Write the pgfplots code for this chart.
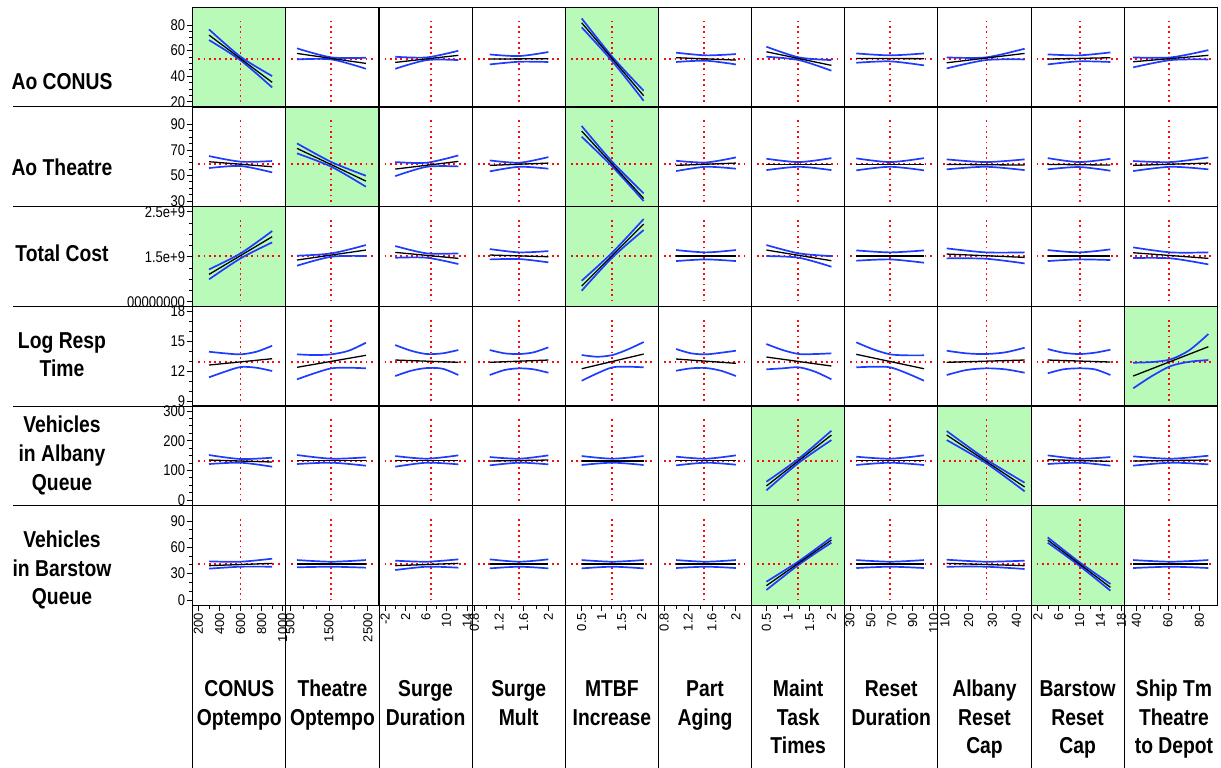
\documentclass[border=0pt]{standalone}
\usepackage{pgfplots}
\pgfplotsset{compat=1.18}
\usepackage{fontspec}
\setmainfont{Liberation Sans}[FakeStretch=0.84]
\newfontfamily\rotfont{Liberation Sans}
\definecolor{jmpgreen}{RGB}{185,250,185}
\definecolor{jmpblue}{RGB}{30,60,255}
\definecolor{jmpred}{RGB}{255,10,10}
\tikzset{
  reddot/.style={jmpred, line width=1.8pt, dash pattern=on 1.8pt off 3.5pt},
  bluec/.style={jmpblue, line width=1.7pt, no markers},
  blackl/.style={black, line width=1.3pt, no markers}
}
\newcommand\setval[2]{\expandafter\def\csname #1\endcsname{#2}}
% current factor settings (red vertical) and predicted responses (red horizontal)
\setval{redx1}{600}\setval{redx2}{1550}\setval{redx3}{7}\setval{redx4}{1.52}
\setval{redx5}{1.25}\setval{redx6}{1.47}\setval{redx7}{1.23}\setval{redx8}{68}
\setval{redx9}{27.5}\setval{redx10}{10}\setval{redx11}{60.5}
\setval{redy1}{53.3}\setval{redy2}{59}\setval{redy3}{1.51}\setval{redy4}{12.93}
\setval{redy5}{131}\setval{redy6}{40.7}
\pgfplotsset{
  panel/.style={scale only axis, width=93.15pt, height=99.68pt, anchor=north west,
    xtick=\empty, ytick=\empty, tick align=outside, tick pos=left,
    axis line style={line width=1.1pt, black},
    major tick length=6pt, minor tick length=3.5pt,
    tick style={black, line width=0.8pt},
    xticklabel style={rotate=90, anchor=east, font=\rotfont\fontsize{13}{13}\selectfont, inner sep=1.5pt},
    yticklabel style={font=\fontsize{15.5}{15.5}\selectfont, inner sep=1.5pt},
    /pgf/number format/assume math mode=true},
  sig/.style={axis background/.style={fill=jmpgreen}},
  xc1/.style={xmin=145,xmax=1030},
  xc2/.style={xmin=393,xmax=2787},
  xc3/.style={xmin=-3.17,xmax=15.0},
  xc4/.style={xmin=0.765,xmax=2.274},
  xc5/.style={xmin=0.09,xmax=2.42},
  xc6/.style={xmin=0.704,xmax=2.263},
  xc7/.style={xmin=0.158,xmax=2.308},
  xc8/.style={xmin=24.98,xmax=114.1},
  xc9/.style={xmin=7.1,xmax=46.2},
  xc10/.style={xmin=0.708,xmax=18.54},
  xc11/.style={xmin=32.3,xmax=91.3},
  yr1/.style={ymin=15.9,ymax=93.9},
  yr2/.style={ymin=25.6,ymax=103.6},
  yr3/.style={ymin=0.398,ymax=2.613},
  yr4/.style={ymin=8.5,ymax=18.47},
  yr5/.style={ymin=-19.2,ymax=316.9},
  yr6/.style={ymin=-6.15,ymax=107.4},
  yr1t/.style={ytick={20,40,60,80},yticklabels={20,40,60,80},minor y tick num=3},
  yr2t/.style={ytick={30,50,70,90},yticklabels={30,50,70,90},minor y tick num=3},
  yr3t/.style={ytick={0.5,1.5,2.5},yticklabels={00000000,1.5e+9,2.5e+9},minor y tick num=3},
  yr4t/.style={ytick={9,12,15,18},yticklabels={9,12,15,18},minor y tick num=2},
  yr5t/.style={ytick={0,100,200,300},yticklabels={0,100,200,300},minor y tick num=3},
  yr6t/.style={ytick={0,30,60,90},yticklabels={0,30,60,90},minor y tick num=2},
  xc1t/.style={xtick={200,400,600,800,1000},xticklabels={200,400,600,800,1000},minor x tick num=1},
  xc2t/.style={xtick={500,1500,2500},xticklabels={500,1500,2500},minor x tick num=2},
  xc3t/.style={xtick={-2,2,6,10,14},xticklabels={-2,2,6,10,14},minor x tick num=1},
  xc4t/.style={xtick={0.8,1.2,1.6,2},xticklabels={0.8,1.2,1.6,2},minor x tick num=1},
  xc5t/.style={xtick={0.5,1,1.5,2},xticklabels={0.5,1,1.5,2},minor x tick num=1},
  xc6t/.style={xtick={0.8,1.2,1.6,2},xticklabels={0.8,1.2,1.6,2},minor x tick num=1},
  xc7t/.style={xtick={0.5,1,1.5,2},xticklabels={0.5,1,1.5,2},minor x tick num=1},
  xc8t/.style={xtick={30,50,70,90,110},xticklabels={30,50,70,90,110},minor x tick num=1},
  xc9t/.style={xtick={10,20,30,40},xticklabels={10,20,30,40},minor x tick num=1},
  xc10t/.style={xtick={2,6,10,14,18},xticklabels={2,6,10,14,18},minor x tick num=1},
  xc11t/.style={xtick={40,60,80},xticklabels={40,60,80},minor x tick num=3},
}
% #1 column, #2 row, #3 options, #4 prediction line, #5 upper band, #6 lower band
\newcommand{\panel}[6]{%
  \pgfmathsetmacro{\px}{192.7+93.15*(#1-1)}%
  \pgfmathsetmacro{\py}{7.3+99.68*(#2-1)}%
  \edef\rx{\csname redx#1\endcsname}%
  \edef\ry{\csname redy#2\endcsname}%
  \begin{axis}[panel, at={(\px pt,-\py pt)}, xc#1, yr#2, #3]
    \draw[reddot] ({axis cs:\rx,\ry}|-{rel axis cs:0,0.05}) -- ({axis cs:\rx,\ry}|-{rel axis cs:0,0.89});
    \draw[reddot] ({rel axis cs:0.06,0}|-{axis cs:\rx,\ry}) -- ({rel axis cs:0.94,0}|-{axis cs:\rx,\ry});
    \addplot[bluec, smooth] coordinates {#5};
    \addplot[bluec, smooth] coordinates {#6};
    \addplot[blackl] coordinates {#4};
  \end{axis}}
\newcommand{\lab}{\fontsize{23}{23}\selectfont\bfseries}
\begin{document}
\begin{tikzpicture}
\useasboundingbox (0,0) rectangle (1221pt,-768pt);
% ---------------- Row 1: Ao CONUS
\panel{1}{1}{sig,yr1t}{(300,72.2)(900,35.2)}{(300,76.6)(600,55.2)(900,40.1)}{(300,68.3)(600,52.4)(900,31.2)}
\panel{2}{1}{}{(680,57.8)(2450,50.0)}{(680,61.75)(1565,54.7)(2450,54.45)}{(680,53.1)(1565,53.1)(2450,45.8)}
\panel{3}{1}{}{(0,50.8)(12.3,56.3)}{(0,55.2)(6.15,54.7)(12.3,59.9)}{(0,45.8)(6.15,52.6)(12.3,52.6)}
\panel{4}{1}{}{(1.05,53.4)(2,53.7)}{(1.05,57.0)(1.53,55.75)(2,58.9)}{(1.05,49.2)(1.53,51.3)(2,51.1)}
\panel{5}{1}{sig}{(0.5,81.8)(2.05,24.7)}{(0.5,85.2)(1.27,55.0)(2.05,28.6)}{(0.5,78.2)(1.27,51.5)(2.05,20.8)}
\panel{6}{1}{}{(1,54.45)(2,52.6)}{(1,58.4)(1.5,56.3)(2,57.3)}{(1,51.1)(1.5,52.1)(2,49.2)}
\panel{7}{1}{}{(0.5,59.1)(2,48.45)}{(0.5,63.05)(1.25,54.7)(2,52.6)}{(0.5,55.2)(1.25,52.6)(2,44.3)}
\panel{8}{1}{}{(36,53.9)(100.8,53.7)}{(36,57.8)(68.4,56.3)(100.8,57.8)}{(36,50.5)(68.4,51.6)(100.8,48.45)}
\panel{9}{1}{}{(10.8,50.5)(43.5,57.8)}{(10.8,54.7)(27.2,54.7)(43.5,61.5)}{(10.8,46.1)(27.2,52.6)(43.5,53.1)}
\panel{10}{1}{}{(3.9,53.4)(15.9,54.45)}{(3.9,57.05)(9.9,56.3)(15.9,58.6)}{(3.9,49.2)(9.9,51.6)(15.9,51.1)}
\panel{11}{1}{}{(38,51.3)(85.6,56.3)}{(38,54.7)(61.8,54.7)(85.6,60.4)}{(38,46.9)(61.8,52.6)(85.6,53.1)}
% ---------------- Row 2: Ao Theatre
\panel{1}{2}{yr2t}{(300,60.76)(900,56.84)}{(300,65.2)(600,60.8)(900,61.3)}{(300,55.8)(600,57.4)(900,52.4)}
\panel{2}{2}{sig}{(680,71.2)(2450,45.6)}{(680,75.1)(1565,60.5)(2450,49.8)}{(680,67.3)(1565,56.8)(2450,41.2)}
\panel{3}{2}{}{(0,55.0)(12.3,61.0)}{(0,60.5)(6.15,60.0)(12.3,65.7)}{(0,49.5)(6.15,56.8)(12.3,57.1)}
\panel{4}{2}{}{(1.05,57.9)(2,59.7)}{(1.05,61.8)(1.53,60.0)(2,64.4)}{(1.05,53.2)(1.53,56.8)(2,55.3)}
\panel{5}{2}{sig}{(0.5,84.75)(2.05,32.07)}{(0.5,88.7)(1.27,60.5)(2.05,36.0)}{(0.5,80.3)(1.27,56.8)(2.05,30.0)}
\panel{6}{2}{}{(1,57.9)(2,59.7)}{(1,61.5)(1.5,60.2)(2,64.15)}{(1,53.45)(1.5,56.8)(2,55.3)}
\panel{7}{2}{}{(0.5,58.67)(2,58.67)}{(0.5,63.1)(1.25,60.5)(2,63.6)}{(0.5,54.2)(1.25,56.8)(2,54.2)}
\panel{8}{2}{}{(36,58.67)(100.8,58.67)}{(36,63.4)(68.4,60.5)(100.8,63.6)}{(36,54.0)(68.4,56.8)(100.8,54.0)}
\panel{9}{2}{}{(10.8,58.67)(43.5,58.15)}{(10.8,62.6)(27.2,60.5)(43.5,62.6)}{(10.8,54.8)(27.2,56.8)(43.5,54.2)}
\panel{10}{2}{}{(3.9,58.67)(15.9,58.15)}{(3.9,63.6)(9.9,60.5)(15.9,63.1)}{(3.9,54.8)(9.9,56.6)(15.9,53.7)}
\panel{11}{2}{}{(38,57.9)(85.6,59.7)}{(38,61.3)(61.8,60.5)(85.6,64.15)}{(38,53.45)(61.8,56.8)(85.6,54.8)}
% ---------------- Row 3: Total Cost (in 1e9)
\panel{1}{3}{sig,yr3t}{(300,1.108)(900,1.945)}{(300,1.219)(600,1.575)(900,2.071)}{(300,0.997)(600,1.464)(900,1.819)}
\panel{2}{3}{}{(680,1.427)(2450,1.649)}{(680,1.523)(1565,1.575)(2450,1.760)}{(680,1.301)(1565,1.501)(2450,1.515)}
\panel{3}{3}{}{(0,1.597)(12.3,1.464)}{(0,1.738)(6.15,1.575)(12.3,1.575)}{(0,1.478)(6.15,1.478)(12.3,1.338)}
\panel{4}{3}{}{(1.05,1.538)(2,1.501)}{(1.05,1.671)(1.53,1.597)(2,1.626)}{(1.05,1.441)(1.53,1.449)(2,1.375)}
\panel{5}{3}{sig}{(0.5,0.849)(2.05,2.227)}{(0.5,0.967)(1.27,1.597)(2.05,2.338)}{(0.5,0.745)(1.27,1.486)(2.05,2.093)}
\panel{6}{3}{}{(1,1.515)(2,1.515)}{(1,1.649)(1.5,1.597)(2,1.649)}{(1,1.404)(1.5,1.441)(2,1.404)}
\panel{7}{3}{}{(0.5,1.649)(2,1.412)}{(0.5,1.760)(1.25,1.575)(2,1.515)}{(0.5,1.515)(1.25,1.478)(2,1.278)}
\panel{8}{3}{}{(36,1.515)(100.8,1.515)}{(36,1.641)(68.4,1.597)(100.8,1.641)}{(36,1.412)(68.4,1.441)(100.8,1.367)}
\panel{9}{3}{}{(10.8,1.560)(43.5,1.486)}{(10.8,1.686)(27.2,1.597)(43.5,1.597)}{(10.8,1.464)(27.2,1.456)(43.5,1.352)}
\panel{10}{3}{}{(3.9,1.515)(15.9,1.515)}{(3.9,1.649)(9.9,1.597)(15.9,1.664)}{(3.9,1.404)(9.9,1.441)(15.9,1.427)}
\panel{11}{3}{}{(38,1.589)(85.6,1.464)}{(38,1.708)(61.8,1.597)(85.6,1.597)}{(38,1.471)(61.8,1.464)(85.6,1.330)}
% ---------------- Row 4: Log Resp Time
\panel{1}{4}{yr4t}{(300,12.60)(900,13.23)}{(300,13.93)(450,13.77)(600,13.67)(750,13.93)(900,14.53)}{(300,11.37)(450,11.93)(600,12.40)(750,12.33)(900,12.00)}
\panel{2}{4}{}{(680,12.37)(2450,13.57)}{(680,13.67)(1122,13.60)(1565,13.67)(2008,14.03)(2450,14.83)}{(680,11.17)(1122,11.77)(1565,12.27)(2008,12.33)(2450,12.27)}
\panel{3}{4}{}{(0,13.10)(12.3,12.87)}{(0,14.60)(3.08,14.03)(6.15,13.70)(9.23,13.77)(12.3,14.10)}{(0,11.50)(3.08,12.03)(6.15,12.30)(9.23,12.23)(12.3,11.60)}
\panel{4}{4}{}{(1.05,12.87)(2,13.10)}{(1.05,14.10)(1.29,13.77)(1.53,13.70)(1.76,13.87)(2,14.37)}{(1.05,11.60)(1.29,12.10)(1.53,12.27)(1.76,12.17)(2,11.83)}
\panel{5}{4}{}{(0.5,12.23)(2.05,13.70)}{(0.5,13.60)(0.89,13.43)(1.27,13.60)(1.66,14.17)(2.05,14.90)}{(0.5,11.03)(0.89,11.77)(1.27,12.37)(1.66,12.43)(2.05,12.37)}
\panel{6}{4}{}{(1,13.20)(2,12.77)}{(1,14.20)(1.25,13.77)(1.5,13.67)(1.75,13.83)(2,14.03)}{(1,12.03)(1.25,12.27)(1.5,12.30)(1.75,12.03)(2,11.50)}
\panel{7}{4}{}{(0.5,13.40)(2,12.50)}{(0.5,14.70)(0.875,14.10)(1.25,13.70)(1.625,13.70)(2,13.77)}{(0.5,12.17)(0.875,12.27)(1.25,12.37)(1.625,11.93)(2,11.17)}
\panel{8}{4}{}{(36,13.67)(100.8,12.23)}{(36,14.87)(52.2,14.17)(68.4,13.67)(84.6,13.57)(100.8,13.57)}{(36,12.37)(52.2,12.43)(68.4,12.37)(84.6,11.77)(100.8,11.03)}
\panel{9}{4}{}{(10.8,12.87)(43.5,13.10)}{(10.8,14.03)(19,13.77)(27.2,13.70)(35.4,13.87)(43.5,14.33)}{(10.8,11.60)(19,12.10)(27.2,12.27)(35.4,12.17)(43.5,11.83)}
\panel{10}{4}{}{(3.9,13.10)(15.9,12.90)}{(3.9,14.20)(6.9,13.83)(9.9,13.70)(12.9,13.83)(15.9,14.13)}{(3.9,11.77)(6.9,12.17)(9.9,12.27)(12.9,12.17)(15.9,11.60)}
\panel{11}{4}{sig}{(38,11.50)(85.6,14.43)}{(38,12.83)(49.9,12.90)(61.8,13.17)(73.7,14.10)(85.6,15.70)}{(38,10.27)(49.9,11.50)(61.8,12.50)(73.7,12.93)(85.6,13.10)}
% ---------------- Row 5: Vehicles in Albany Queue
\panel{1}{5}{yr5t}{(300,134.8)(900,128.1)}{(300,151.7)(600,138.2)(900,142.7)}{(300,121.3)(600,125.8)(900,112.3)}
\panel{2}{5}{}{(680,133.7)(2450,133.7)}{(680,151.7)(1565,139.3)(2450,143.8)}{(680,121.3)(1565,125.8)(2450,115.7)}
\panel{3}{5}{}{(0,132.6)(12.3,132.6)}{(0,148.3)(6.15,139.3)(12.3,150.6)}{(0,112.3)(6.15,125.8)(12.3,120.2)}
\panel{4}{5}{}{(1.05,131.5)(2,134.8)}{(1.05,144.9)(1.53,139.3)(2,150.6)}{(1.05,116.8)(1.53,125.8)(2,120.2)}
\panel{5}{5}{}{(0.5,131.5)(2.05,131.5)}{(0.5,148.3)(1.27,139.3)(2.05,148.3)}{(0.5,118.0)(1.27,125.8)(2.05,118.0)}
\panel{6}{5}{}{(1,133.7)(2,133.7)}{(1,146.1)(1.5,139.3)(2,150.6)}{(1,116.8)(1.5,125.8)(2,119.1)}
\panel{7}{5}{sig}{(0.5,47.2)(2,219.1)}{(0.5,61.8)(1.25,140)(2,233.7)}{(0.5,32.6)(1.25,126)(2,202.2)}
\panel{8}{5}{}{(36,133.7)(100.8,133.7)}{(36,146.1)(68.4,139.3)(100.8,150.6)}{(36,118.0)(68.4,125.8)(100.8,118.0)}
\panel{9}{5}{sig}{(10.8,219.1)(43.5,43.8)}{(10.8,232.6)(27.2,138)(43.5,58.4)}{(10.8,202.2)(27.2,125)(43.5,29.2)}
\panel{10}{5}{}{(3.9,135.9)(15.9,130.3)}{(3.9,150.6)(9.9,139.3)(15.9,144.9)}{(3.9,121.3)(9.9,125.8)(15.9,115.7)}
\panel{11}{5}{}{(38,131.5)(85.6,134.8)}{(38,147.2)(61.8,139.3)(85.6,149.4)}{(38,115.7)(61.8,125.8)(85.6,120.2)}
% ---------------- Row 6: Vehicles in Barstow Queue
\panel{1}{6}{yr6t,xc1t}{(300,39.1)(900,41.7)}{(300,44.0)(600,43.6)(900,47.05)}{(300,35.7)(600,37.9)(900,37.9)}
\panel{2}{6}{xc2t}{(680,41.0)(2450,41.0)}{(680,45.5)(1565,43.6)(2450,45.5)}{(680,37.2)(1565,37.9)(2450,36.8)}
\panel{3}{6}{xc3t}{(0,39.1)(12.3,41.7)}{(0,44.8)(6.15,43.6)(12.3,46.3)}{(0,34.1)(6.15,37.9)(12.3,36.8)}
\panel{4}{6}{xc4t}{(1.05,41.0)(2,41.0)}{(1.05,46.3)(1.53,43.6)(2,46.3)}{(1.05,36.0)(1.53,37.9)(2,36.0)}
\panel{5}{6}{xc5t}{(0.5,41.0)(2.05,41.0)}{(0.5,45.5)(1.27,43.6)(2.05,45.5)}{(0.5,36.0)(1.27,37.9)(2.05,36.0)}
\panel{6}{6}{xc6t}{(1,41.0)(2,41.0)}{(1,45.5)(1.5,43.6)(2,45.5)}{(1,36.4)(1.5,37.9)(2,36.4)}
\panel{7}{6}{sig,xc7t}{(0.5,16.3)(2,68.3)}{(0.5,20.85)(1.25,44.3)(2,71.35)}{(0.5,11.36)(1.25,40.3)(2,65.3)}
\panel{8}{6}{xc8t}{(36,41.0)(100.8,41.0)}{(36,45.5)(68.4,43.6)(100.8,45.5)}{(36,36.4)(68.4,37.9)(100.8,36.4)}
\panel{9}{6}{xc9t}{(10.8,41.7)(43.5,39.1)}{(10.8,45.9)(27.2,43.6)(43.5,44.8)}{(10.8,37.9)(27.2,37.9)(43.5,35.3)}
\panel{10}{6}{sig,xc10t}{(3.9,68.3)(15.9,14.4)}{(3.9,71.35)(9.9,43.4)(15.9,18.2)}{(3.9,65.3)(9.9,39.3)(15.9,10.6)}
\panel{11}{6}{xc11t}{(38,41.0)(85.6,41.0)}{(38,45.5)(61.8,43.6)(85.6,45.5)}{(38,36.4)(61.8,37.9)(85.6,36.4)}
% ---------------- separators
\foreach \yy in {106.98,206.66,306.34,406.02,505.7}
  \draw[line width=1pt] (13pt,-\yy pt) -- (192.7pt,-\yy pt);
\foreach \k in {0,...,10} {
  \pgfmathsetmacro\xx{192.7+93.15*\k}
  \draw[line width=0.9pt] (\xx pt,-605.4pt) -- (\xx pt,-768pt);
}
% ---------------- row labels
\node[anchor=base,font=\lab,inner sep=0] at (62pt,-89.3pt) {Ao CONUS};
\node[anchor=base,font=\lab,inner sep=0] at (62pt,-175pt) {Ao Theatre};
\node[anchor=base,font=\lab,inner sep=0] at (62pt,-261pt) {Total Cost};
\node[anchor=base,font=\lab,inner sep=0] at (62pt,-348.3pt) {Log Resp};
\node[anchor=base,font=\lab,inner sep=0] at (62pt,-376pt) {Time};
\node[anchor=base,font=\lab,inner sep=0] at (62pt,-432.7pt) {Vehicles};
\node[anchor=base,font=\lab,inner sep=0] at (62pt,-461.7pt) {in Albany};
\node[anchor=base,font=\lab,inner sep=0] at (62pt,-490pt) {Queue};
\node[anchor=base,font=\lab,inner sep=0] at (62pt,-547pt) {Vehicles};
\node[anchor=base,font=\lab,inner sep=0] at (62pt,-576pt) {in Barstow};
\node[anchor=base,font=\lab,inner sep=0] at (62pt,-604pt) {Queue};
% ---------------- column titles
\foreach \cx/\la/\lb/\lc in {239.3/CONUS/Optempo/,332.4/Theatre/Optempo/,425.6/Surge/Duration/,518.7/Surge/Mult/,611.9/MTBF/Increase/,705.0/Part/Aging/,798.2/Maint/Task/Times,891.3/Reset/Duration/,984.5/Albany/Reset/Cap,1077.6/Barstow/Reset/Cap,1174/Ship Tm/Theatre/to Depot} {
  \node[anchor=base,font=\lab,inner sep=0] at (\cx pt,-696pt) {\la};
  \node[anchor=base,font=\lab,inner sep=0] at (\cx pt,-725pt) {\lb};
  \node[anchor=base,font=\lab,inner sep=0] at (\cx pt,-753.5pt) {\lc};
}
\end{tikzpicture}
\end{document}
